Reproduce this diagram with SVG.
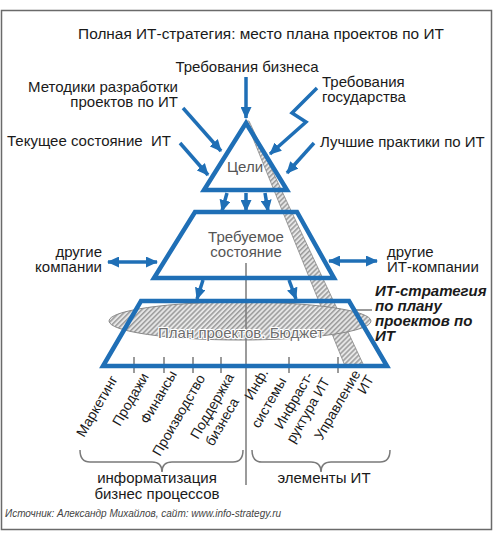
<svg xmlns="http://www.w3.org/2000/svg" width="493" height="540" viewBox="0 0 493 540">
<style>
text{font-family:"Liberation Sans",Arial,sans-serif;fill:#1a1a1a}
.t15{font-size:15px}
.t14{font-size:14px}
.gray{fill:#555}
.blue{fill:none;stroke:#1f6fb6;stroke-width:4.5;stroke-linejoin:miter}
.arr{fill:none;stroke:#1f6fb6;stroke-width:3.5;marker-end:url(#ah)}
.dbl{fill:none;stroke:#1f6fb6;stroke-width:3.5;marker-end:url(#ah);marker-start:url(#ah)}
.gl{stroke:#7a7a7a;stroke-width:1.5;fill:none}
.rot{font-size:14px}
</style>
<defs>
<marker id="ah" markerUnits="userSpaceOnUse" markerWidth="12" markerHeight="11" refX="11" refY="5.5" orient="auto-start-reverse">
<path d="M0,0 L12,5.5 L0,11 z" fill="#1f6fb6"/>
</marker>
<pattern id="hatch" patternUnits="userSpaceOnUse" width="3.5" height="3.5" patternTransform="rotate(45)">
<rect width="3.5" height="3.5" fill="#e6e6e6"/>
<line x1="0.8" y1="0" x2="0.8" y2="3.5" stroke="#7e7e7e" stroke-width="1.1"/>
</pattern>
</defs>
<rect x="1.5" y="10.5" width="490" height="519" fill="#fff" stroke="#6a6a6a" stroke-width="1.5"/>
<text x="261" y="39" text-anchor="middle" style="font-size:15.4px">Полная ИТ-стратегия: место плана проектов по ИТ</text>

<g id="strip"><polygon points="246,121 249,121 364,366 345,366" fill="url(#hatch)" stroke="#888" stroke-width="0.8"/></g>
<g id="plan">
<ellipse cx="240" cy="321" rx="131" ry="19" fill="url(#hatch)" stroke="#888" stroke-width="1"/>
</g>
<g id="axis">
<line class="gl" x1="246" y1="263" x2="246" y2="485"/>
<line class="gl" x1="134" y1="357" x2="134" y2="373"/>
<line class="gl" x1="164" y1="357" x2="164" y2="373"/>
<line class="gl" x1="193" y1="357" x2="193" y2="373"/>
<line class="gl" x1="221" y1="357" x2="221" y2="373"/>
<line class="gl" x1="289" y1="357" x2="289" y2="373"/>
<line class="gl" x1="338" y1="357" x2="338" y2="373"/>
<line class="gl" x1="355" y1="310" x2="372" y2="310"/>
</g>
<g id="goals">
<polygon class="blue" points="246,123 287,190 204,190"/>
<text class="t15 gray" x="245" y="172" text-anchor="middle">Цели</text>
</g>
<g id="required">
<polygon class="blue" points="195,212 297,212 334,278 154,278"/>
<text class="t15 gray" x="246" y="242" text-anchor="middle">Требуемое</text>
<text class="t15 gray" x="246" y="257" text-anchor="middle">состояние</text>
</g>
<g id="projects">
<polygon class="blue" points="141,301 349,301 387,366 103,366"/>
<text x="241" y="338" text-anchor="middle" style="font-size:15px;fill:#6e6e6e;stroke:#fff;stroke-width:2.2;paint-order:stroke">План проектов. Бюджет</text>
</g>

<g id="connectors">
<path class="arr" d="M246,77 L246,118"/>
<path class="arr" d="M183,108 L221,151"/>
<path class="arr" d="M180,143 L208,175"/>
<path class="arr" d="M317,88 L292,113 L306,122 L270,154"/>
<path class="arr" d="M314,143 L287,173"/>
<path class="arr" d="M227,193 L222,211"/>
<path class="arr" d="M246,193 L246,211"/>
<path class="arr" d="M265,193 L268,211"/>
<path class="arr" d="M203,280 L197,299"/>
<path class="arr" d="M289,280 L296,299"/>
<path class="dbl" d="M108,262 L157,262"/>
<path class="dbl" d="M329,261 L377,261"/>
</g>

<g id="inputs">
<text class="t15" x="247" y="72" text-anchor="middle">Требования бизнеса</text>
<text class="t15" x="178" y="92" text-anchor="end">Методики разработки</text>
<text class="t15" x="178" y="107" text-anchor="end">проектов по ИТ</text>
<text class="t15" x="322" y="87">Требования</text>
<text class="t15" x="322" y="102">государства</text>
<text class="t15" x="7" y="146" xml:space="preserve">Текущее состояние  ИТ</text>
<text class="t15" x="320" y="147">Лучшие практики по ИТ</text>
<text class="t15" x="102" y="257" text-anchor="end">другие</text>
<text class="t15" x="102" y="272" text-anchor="end">компании</text>
<text class="t15" x="387" y="257">другие</text>
<text class="t15" x="387" y="272">ИТ-компании</text>
</g>
<g id="note" style="font-weight:bold;font-style:italic;font-size:15px">
<text x="375" y="296">ИТ-стратегия</text>
<text x="375" y="311">по плану</text>
<text x="375" y="326">проектов по</text>
<text x="375" y="341">ИТ</text>
</g>

<g id="labels">
<text class="rot" transform="translate(84,438) rotate(-60)">Маркетинг</text>
<text class="rot" transform="translate(120,427) rotate(-60)">Продажи</text>
<text class="rot" transform="translate(148,425) rotate(-60)">Финансы</text>
<text class="rot" transform="translate(160,457) rotate(-60)">Производство</text>
<text class="rot" transform="translate(198,440) rotate(-60)">Поддержка</text>
<text class="rot" transform="translate(213,447) rotate(-60)">бизнеса</text>
<text class="rot" transform="translate(252,401) rotate(-60)">Инф.</text>
<text class="rot" transform="translate(259,429) rotate(-60)">системы</text>
<text class="rot" transform="translate(282,430) rotate(-60)">Инфраст-</text>
<text class="rot" transform="translate(294,444) rotate(-60)">руктура ИТ</text>
<text class="rot" transform="translate(322,441) rotate(-60)">Управление</text>
<text class="rot" transform="translate(365,395) rotate(-60)">ИТ</text>
</g>

<g id="groups">
<path class="gl" d="M80,450 Q80,462 90,462 L152,462 Q162,462 162,472 Q162,462 172,462 L233,462 Q243,462 243,450"/>
<path class="gl" d="M252,450 Q252,462 262,462 L311,462 Q321,462 321,472 Q321,462 331,462 L380,462 Q390,462 390,450"/>
<text class="t15" x="157" y="483" text-anchor="middle">информатизация</text>
<text class="t15" x="157" y="499" text-anchor="middle">бизнес процессов</text>
<text class="t15" x="324" y="483" text-anchor="middle">элементы ИТ</text>
</g>
<text x="5" y="517" style="font-size:10px;font-style:italic;fill:#444">Источник: Александр Михайлов, сайт: www.info-strategy.ru</text>
</svg>
